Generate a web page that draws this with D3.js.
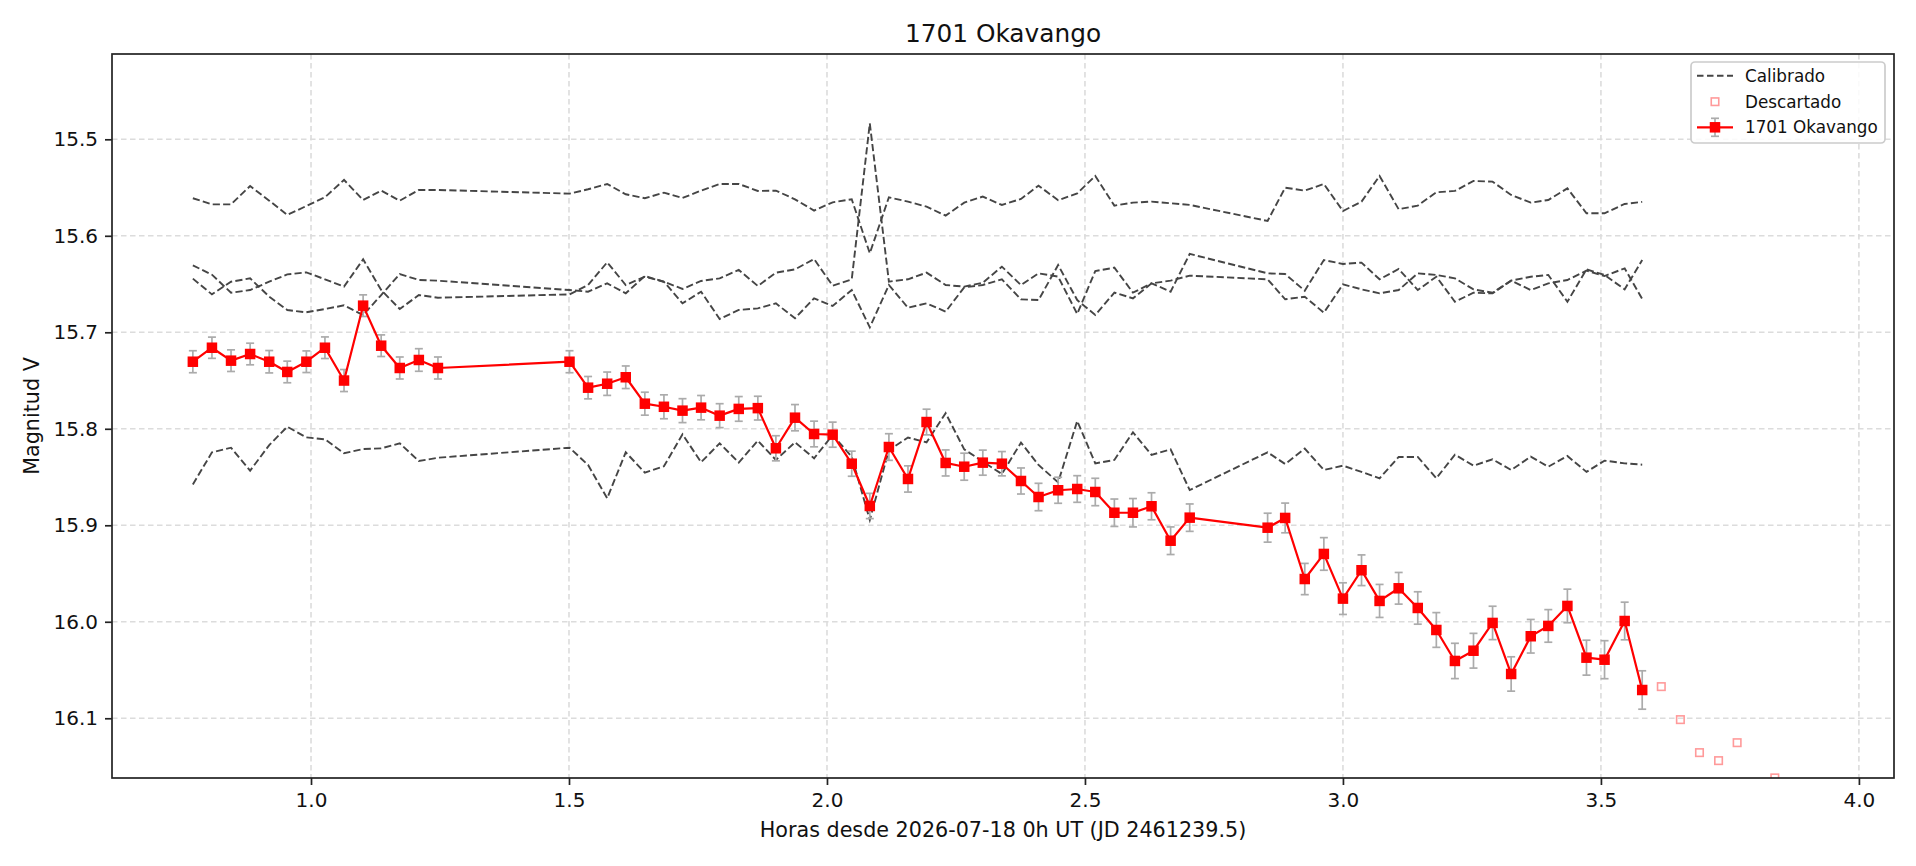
<!DOCTYPE html>
<html>
<head>
<meta charset="utf-8">
<script src="https://cdn.jsdelivr.net/npm/d3@7"></script>
<style>
  html, body { margin: 0; padding: 0; background: #ffffff; }
  svg { display: block; font-family: "DejaVu Sans", sans-serif; }
</style>
</head>
<body>
<svg id="chart" width="1916" height="866"></svg>
<script>
// ---------------- DATA ----------------
const titleText = "1701 Okavango";
const xLabel = "Horas desde 2026-07-18 0h UT (JD 2461239.5)";
const yLabel = "Magnitud V";
const legendLabels = ["Calibrado", "Descartado", "1701 Okavango"];

const xTicks = [1.0, 1.5, 2.0, 2.5, 3.0, 3.5, 4.0];
const yTicks = [15.5, 15.6, 15.7, 15.8, 15.9, 16.0, 16.1];

const hours = [0.771,0.808,0.845,0.882,0.919,0.954,0.991,1.027,1.064,1.101,1.136,1.172,1.209,1.246,
  1.501,1.537,1.574,1.610,1.647,1.684,1.720,1.756,1.792,1.829,1.866,1.901,1.938,1.975,2.011,2.048,2.083,2.120,2.157,2.193,2.230,2.266,2.302,2.339,2.376,2.410,2.448,2.485,2.520,2.557,2.593,2.629,2.666,2.703,
  2.854,2.888,2.926,2.963,3.000,3.036,3.071,3.108,3.145,3.181,3.217,3.253,3.290,3.326,3.364,3.398,3.435,3.472,3.507,3.546,3.580];

const targetMag = [15.7305,15.7160,15.7294,15.7225,15.7305,15.7411,15.7305,15.7160,15.7500,15.6724,15.7139,15.7370,15.7287,15.7370,
  15.7305,15.7574,15.7533,15.7466,15.7740,15.7772,15.7812,15.7781,15.7864,15.7794,15.7786,15.8202,15.7885,15.8054,15.8061,15.8362,15.8800,15.8189,15.8520,15.7930,15.8354,15.8393,15.8351,15.8362,15.8541,15.8707,15.8637,15.8624,15.8655,15.8870,15.8870,15.8803,15.9160,15.8921,
  15.9025,15.8924,15.9557,15.9297,15.9760,15.9466,15.9784,15.9653,15.9857,16.0085,16.0406,16.0300,16.0012,16.0541,16.0150,16.0043,15.9836,16.0372,16.0393,15.9992,16.0707];

const targetErr = [0.0114,0.0110,0.0112,0.0112,0.0116,0.0112,0.0112,0.0112,0.0114,0.0112,0.0112,0.0114,0.0117,0.0114,
  0.0114,0.0116,0.0121,0.0117,0.0119,0.0124,0.0124,0.0126,0.0124,0.0128,0.0123,0.0130,0.0136,0.0133,0.0130,0.0130,0.0131,0.0138,0.0136,0.0133,0.0135,0.0140,0.0130,0.0126,0.0135,0.0142,0.0135,0.0138,0.0142,0.0142,0.0147,0.0140,0.0143,0.0142,
  0.0150,0.0154,0.0162,0.0169,0.0164,0.0159,0.0171,0.0164,0.0168,0.0180,0.0183,0.0180,0.0173,0.0178,0.0174,0.0169,0.0174,0.0181,0.0197,0.0195,0.0199];

const calib1 = [15.5611,15.5674,15.5674,15.5484,15.5636,15.5784,15.5691,15.5601,15.5421,15.5629,15.5532,15.5636,15.5525,15.5525,
  15.5563,15.5518,15.5463,15.5570,15.5611,15.5553,15.5608,15.5532,15.5463,15.5463,15.5535,15.5532,15.5622,15.5739,15.5653,15.5622,15.6181,15.5601,15.5646,15.5698,15.5791,15.5656,15.5594,15.5680,15.5618,15.5480,15.5632,15.5560,15.5380,15.5687,15.5656,15.5646,15.5663,15.5680,
  15.5846,15.5501,15.5532,15.5463,15.5743,15.5646,15.5380,15.5725,15.5687,15.5549,15.5535,15.5432,15.5439,15.5577,15.5656,15.5629,15.5508,15.5767,15.5767,15.5670,15.5649];

const calib2 = [15.6306,15.6403,15.6590,15.6562,15.6476,15.6400,15.6379,15.6451,15.6527,15.6244,15.6562,15.6759,15.6614,15.6642,
  15.6607,15.6510,15.6275,15.6510,15.6424,15.6476,15.6700,15.6579,15.6862,15.6769,15.6752,15.6700,15.6855,15.6648,15.6727,15.6562,15.6949,15.6510,15.6745,15.6700,15.6786,15.6534,15.6510,15.6451,15.6659,15.6666,15.6303,15.6666,15.6821,15.6589,15.6648,15.6493,15.6465,15.6413,
  15.6451,15.6658,15.6631,15.6797,15.6503,15.6555,15.6596,15.6562,15.6389,15.6406,15.6441,15.6555,15.6590,15.6465,15.6562,15.6493,15.6458,15.6361,15.6417,15.6337,15.6655];

const calib3 = [15.6444,15.6607,15.6476,15.6441,15.6631,15.6769,15.6793,15.6759,15.6721,15.6821,15.6614,15.6396,15.6458,15.6465,
  15.6562,15.6579,15.6493,15.6596,15.6417,15.6476,15.6551,15.6468,15.6441,15.6354,15.6520,15.6382,15.6348,15.6241,15.6517,15.6451,15.4835,15.6475,15.6451,15.6382,15.6510,15.6527,15.6486,15.6320,15.6510,15.6389,15.6423,15.6810,15.6365,15.6330,15.6589,15.6493,15.6579,15.6188,
  15.6389,15.6396,15.6569,15.6251,15.6292,15.6278,15.6451,15.6344,15.6562,15.6424,15.6683,15.6590,15.6596,15.6465,15.6424,15.6406,15.6683,15.6348,15.6406,15.6555,15.6251];

const calib4 = [15.8577,15.8244,15.8196,15.8434,15.8169,15.7979,15.8089,15.8109,15.8254,15.8210,15.8203,15.8151,15.8334,15.8300,
  15.8196,15.8375,15.8720,15.8244,15.8455,15.8389,15.8057,15.8347,15.8150,15.8350,15.8123,15.8323,15.8140,15.8306,15.8064,15.8289,15.8945,15.8220,15.8091,15.8140,15.7839,15.8213,15.8340,15.8468,15.8143,15.8375,15.8555,15.7919,15.8358,15.8323,15.8036,15.8271,15.8213,15.8635,
  15.8244,15.8365,15.8206,15.8427,15.8382,15.8447,15.8513,15.8292,15.8292,15.8513,15.8268,15.8382,15.8316,15.8427,15.8289,15.8393,15.8282,15.8447,15.8330,15.8358,15.8372];

const discardedHours = [3.617, 3.654, 3.691, 3.728, 3.764, 3.837];
const discardedMag = [16.0672, 16.1014, 16.1356, 16.1439, 16.1253, 16.1618];

const xDomain = [0.6143, 4.068];
const yDomain = [15.4116, 16.1619];

// ---------------- LAYOUT ----------------
const W = 1916, H = 866;
const plot = { left: 112, right: 1894, top: 54, bottom: 778 };

const svg = d3.select("#chart");
const x = d3.scaleLinear().domain(xDomain).range([plot.left, plot.right]);
const y = d3.scaleLinear().domain(yDomain).range([plot.top, plot.bottom]);

svg.append("rect").attr("width", W).attr("height", H).attr("fill", "#ffffff");

svg.append("defs").append("clipPath").attr("id", "plotclip")
  .append("rect")
  .attr("x", plot.left).attr("y", plot.top)
  .attr("width", plot.right - plot.left).attr("height", plot.bottom - plot.top);

// grid
const grid = svg.append("g");
grid.selectAll("line.gx").data(xTicks).enter().append("line")
  .attr("x1", d => x(d)).attr("x2", d => x(d))
  .attr("y1", plot.top).attr("y2", plot.bottom)
  .attr("stroke", "#dcdcdc").attr("stroke-width", 1.6).attr("stroke-dasharray", "5.5,3.5");
grid.selectAll("line.gy").data(yTicks).enter().append("line")
  .attr("y1", d => y(d)).attr("y2", d => y(d))
  .attr("x1", plot.left).attr("x2", plot.right)
  .attr("stroke", "#dcdcdc").attr("stroke-width", 1.6).attr("stroke-dasharray", "5.5,3.5");

const body = svg.append("g").attr("clip-path", "url(#plotclip)");

// calibrated comparison curves
const calibSeries = [calib1, calib2, calib3, calib4];
const lineGen = d3.line().x(d => x(d[0])).y(d => y(d[1]));
calibSeries.forEach(series => {
  body.append("path")
    .datum(hours.map((h, i) => [h, series[i]]))
    .attr("d", lineGen)
    .attr("fill", "none")
    .attr("stroke", "#454545")
    .attr("stroke-width", 1.9)
    .attr("stroke-dasharray", "7.2,3.2");
});

// error bars
const targetData = hours.map((h, i) => ({ h, m: targetMag[i], e: targetErr[i] }));
const eb = body.append("g").attr("stroke", "#ababab").attr("stroke-width", 1.7);
targetData.forEach(d => {
  const cx = x(d.h), y1 = y(d.m - d.e), y2 = y(d.m + d.e);
  eb.append("line").attr("x1", cx).attr("x2", cx).attr("y1", y1).attr("y2", y2);
  eb.append("line").attr("x1", cx - 4).attr("x2", cx + 4).attr("y1", y1).attr("y2", y1);
  eb.append("line").attr("x1", cx - 4).attr("x2", cx + 4).attr("y1", y2).attr("y2", y2);
});

// target line + markers
body.append("path")
  .datum(targetData.map(d => [d.h, d.m]))
  .attr("d", lineGen)
  .attr("fill", "none")
  .attr("stroke", "#ff0000")
  .attr("stroke-width", 2.2)
  .attr("stroke-linejoin", "round");
const ms = 10.5;
body.selectAll("rect.tm").data(targetData).enter().append("rect")
  .attr("x", d => x(d.h) - ms / 2).attr("y", d => y(d.m) - ms / 2)
  .attr("width", ms).attr("height", ms)
  .attr("fill", "#ff0000");

// discarded points
const ds = 7.5;
body.selectAll("rect.dm").data(discardedHours.map((h, i) => [h, discardedMag[i]])).enter().append("rect")
  .attr("x", d => x(d[0]) - ds / 2).attr("y", d => y(d[1]) - ds / 2)
  .attr("width", ds).attr("height", ds)
  .attr("fill", "none").attr("stroke", "#ff9a9a").attr("stroke-width", 1.6);

// axes
const xAxis = d3.axisBottom(x).tickValues(xTicks).tickFormat(d3.format(".1f"))
  .tickSize(7).tickPadding(8).tickSizeOuter(0);
const yAxis = d3.axisLeft(y).tickValues(yTicks).tickFormat(d3.format(".1f"))
  .tickSize(7).tickPadding(7).tickSizeOuter(0);

const gx = svg.append("g").attr("transform", `translate(0,${plot.bottom})`).call(xAxis);
const gy = svg.append("g").attr("transform", `translate(${plot.left},0)`).call(yAxis);
[gx, gy].forEach(g => {
  g.select(".domain").remove();
  g.selectAll(".tick line").attr("stroke", "#222").attr("stroke-width", 1.7);
  g.selectAll(".tick text").attr("fill", "#111").style("font-size", "20px")
    .style("font-family", "'DejaVu Sans', sans-serif");
});

// frame
svg.append("rect")
  .attr("x", plot.left).attr("y", plot.top)
  .attr("width", plot.right - plot.left).attr("height", plot.bottom - plot.top)
  .attr("fill", "none").attr("stroke", "#222").attr("stroke-width", 1.7);

// labels
svg.append("text").attr("x", (plot.left + plot.right) / 2).attr("y", 42)
  .attr("text-anchor", "middle").style("font-size", "24.8px").attr("fill", "#111")
  .text(titleText);
svg.append("text").attr("x", (plot.left + plot.right) / 2).attr("y", 837)
  .attr("text-anchor", "middle").style("font-size", "20.7px").attr("fill", "#111")
  .text(xLabel);
svg.append("text")
  .attr("transform", `translate(39,${(plot.top + plot.bottom) / 2}) rotate(-90)`)
  .attr("text-anchor", "middle").style("font-size", "20.7px").attr("fill", "#111")
  .text(yLabel);

// legend
const lg = svg.append("g");
lg.append("rect").attr("x", 1691).attr("y", 62).attr("width", 194).attr("height", 81)
  .attr("rx", 4).attr("fill", "#ffffff").attr("fill-opacity", 0.85)
  .attr("stroke", "#cccccc").attr("stroke-width", 1.7);
const rows = [75.7, 101.7, 127.3];
const hx1 = 1697, hx2 = 1733, hcx = 1715, tx = 1745;
lg.append("line").attr("x1", hx1).attr("x2", hx2).attr("y1", rows[0]).attr("y2", rows[0])
  .attr("stroke", "#454545").attr("stroke-width", 1.9).attr("stroke-dasharray", "6.5,3.5");
lg.append("rect").attr("x", hcx - ds / 2).attr("y", rows[1] - ds / 2).attr("width", ds).attr("height", ds)
  .attr("fill", "none").attr("stroke", "#ff9a9a").attr("stroke-width", 1.6);
lg.append("line").attr("x1", hcx).attr("x2", hcx).attr("y1", rows[2] - 9).attr("y2", rows[2] + 9)
  .attr("stroke", "#ababab").attr("stroke-width", 1.7);
lg.append("line").attr("x1", hcx - 4).attr("x2", hcx + 4).attr("y1", rows[2] - 9).attr("y2", rows[2] - 9)
  .attr("stroke", "#ababab").attr("stroke-width", 1.7);
lg.append("line").attr("x1", hcx - 4).attr("x2", hcx + 4).attr("y1", rows[2] + 9).attr("y2", rows[2] + 9)
  .attr("stroke", "#ababab").attr("stroke-width", 1.7);
lg.append("line").attr("x1", hx1).attr("x2", hx2).attr("y1", rows[2]).attr("y2", rows[2])
  .attr("stroke", "#ff0000").attr("stroke-width", 2.2);
lg.append("rect").attr("x", hcx - ms / 2).attr("y", rows[2] - ms / 2).attr("width", ms).attr("height", ms)
  .attr("fill", "#ff0000");
legendLabels.forEach((t, i) => {
  lg.append("text").attr("x", tx).attr("y", rows[i] + 6.1)
    .style("font-size", "16.8px").attr("fill", "#111").text(t);
});
</script>
</body>
</html>
